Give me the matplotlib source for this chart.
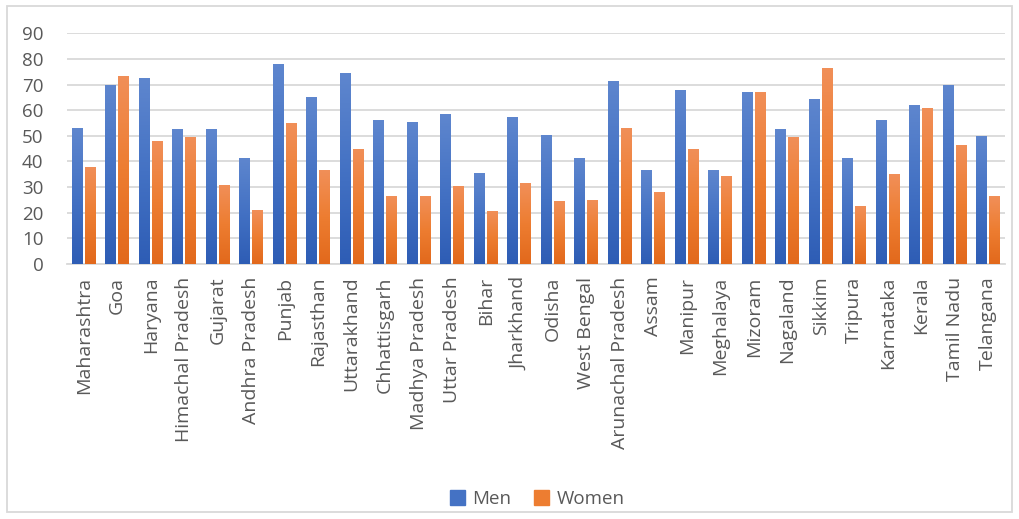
import matplotlib.pyplot as plt
import matplotlib.patches as mpatches
from matplotlib.colors import LinearSegmentedColormap
import numpy as np

states = ['Maharashtra', 'Goa', 'Haryana', 'Himachal Pradesh', 'Gujarat',
          'Andhra Pradesh', 'Punjab', 'Rajasthan', 'Uttarakhand', 'Chhattisgarh',
          'Madhya Pradesh', 'Uttar Pradesh', 'Bihar', 'Jharkhand', 'Odisha',
          'West Bengal', 'Arunachal Pradesh', 'Assam', 'Manipur', 'Meghalaya',
          'Mizoram', 'Nagaland', 'Sikkim', 'Tripura', 'Karnataka', 'Kerala',
          'Tamil Nadu', 'Telangana']
men = [53, 70, 72.5, 52.5, 52.5, 41.5, 78, 65, 74.5, 56, 55.5, 58.5, 35.5, 57.5,
       50.5, 41.5, 71.5, 36.5, 68, 36.5, 67, 52.5, 64.5, 41.5, 56, 62, 70, 50]
women = [38, 73.5, 48, 49.5, 31, 21, 55, 36.5, 45, 26.5, 26.5, 30.5, 20.5, 31.5,
         24.5, 25, 53, 28, 45, 34.5, 67, 49.5, 76.5, 22.5, 35, 61, 46.5, 26.5]

plt.rcParams['font.family'] = ['Open Sans', 'DejaVu Sans']
grey = '#595959'

fig = plt.figure(figsize=(10.19, 5.19), dpi=100)
ax = fig.add_axes([0.0657, 0.4913, 0.9206, 0.4445])

x = np.arange(len(states))
w = 0.32
blue_cm = LinearSegmentedColormap.from_list('b', ['#2E5DB5', '#4472C4', '#5E86CE'])
orange_cm = LinearSegmentedColormap.from_list('o', ['#E2691C', '#ED7D31', '#F18F58'])
grad = np.linspace(0, 1, 64).reshape(-1, 1)

def gradient_bars(xs, vals, cmap, label, color):
    bars = ax.bar(xs, vals, w, color=color, label=label, zorder=2)
    for b in bars:
        x0, y0 = b.get_x(), b.get_y()
        im = ax.imshow(grad, cmap=cmap, origin='lower', aspect='auto',
                       extent=[x0, x0 + b.get_width(), y0, y0 + b.get_height()],
                       zorder=3)
        im.set_clip_path(b)
    return bars

gradient_bars(x - 0.195, men, blue_cm, 'Men', '#4472C4')
gradient_bars(x + 0.195, women, orange_cm, 'Women', '#ED7D31')

ax.set_xlim(-0.5, len(states) - 0.5)
ax.set_ylim(0, 90)
ax.set_yticks(range(0, 91, 10))
ax.yaxis.grid(True, color='#D9D9D9', lw=1.3, zorder=0)
ax.set_axisbelow(True)
for s in ['top', 'right', 'left']:
    ax.spines[s].set_visible(False)
ax.spines['bottom'].set_color('#D9D9D9')
ax.spines['bottom'].set_linewidth(1.3)
ax.tick_params(axis='both', length=0, colors=grey, labelsize=13.5)
ax.tick_params(axis='y', pad=17)
ax.tick_params(axis='x', pad=9, labelsize=14)
ax.set_xticks(x)
ax.set_xticklabels(states, rotation=90)

leg = fig.legend(handles=[mpatches.Patch(color='#4472C4', label='Men'),
                          mpatches.Patch(color='#ED7D31', label='Women')],
                 loc='center', bbox_to_anchor=(0.527, 0.0385), ncol=2, frameon=False,
                 fontsize=13.5, handlelength=0.8, handleheight=0.8, handletextpad=0.4,
                 columnspacing=1.2)
for t in leg.get_texts():
    t.set_color(grey)

fig.patches.append(mpatches.Rectangle((7 / 1019, 1 - 512 / 519), 1005 / 1019, 506 / 519,
                                      transform=fig.transFigure, fill=False,
                                      edgecolor='#D9D9D9', lw=1.3))

fig.savefig('out.png', dpi=100)
